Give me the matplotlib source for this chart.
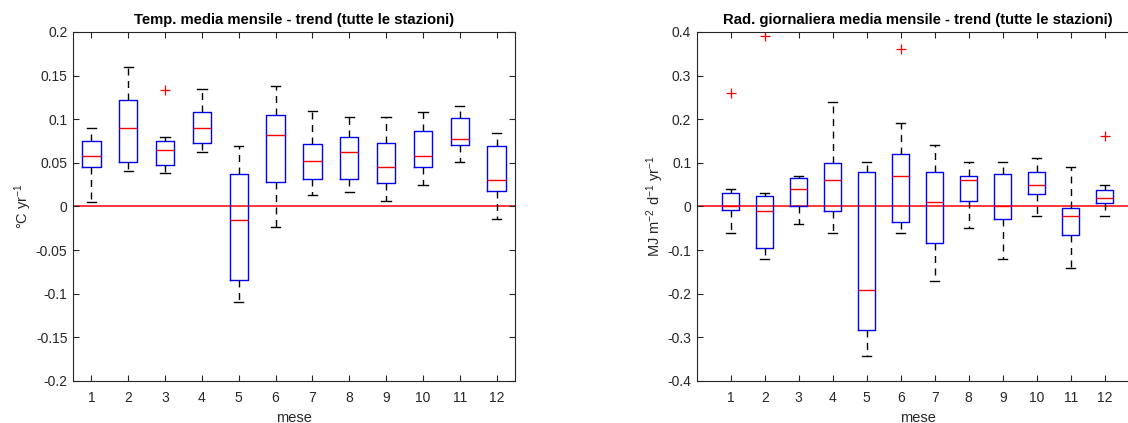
import matplotlib
matplotlib.use("Agg")
import matplotlib.pyplot as plt

plt.rcParams['font.family'] = ['Liberation Sans', 'DejaVu Sans']
plt.rcParams['mathtext.fontset'] = 'custom'
plt.rcParams['mathtext.rm'] = 'Liberation Sans'
plt.rcParams['mathtext.it'] = 'Liberation Sans:italic'
plt.rcParams['mathtext.bf'] = 'Liberation Sans:bold'

months = [1, 2, 3, 4, 5, 6, 7, 8, 9, 10, 11, 12]
month_labels = ['1', '2', '3', '4', '5', '6', '7', '8', '9', '10', '11', '12']

# Temperature trend (degC / yr)
temp_whislo = [0.005, 0.041, 0.038, 0.063, -0.109, -0.024, 0.013, 0.017, 0.006, 0.025, 0.051, -0.014]
temp_q1 = [0.045, 0.051, 0.047, 0.073, -0.084, 0.028, 0.032, 0.032, 0.027, 0.045, 0.070, 0.018]
temp_med = [0.058, 0.090, 0.065, 0.090, -0.016, 0.082, 0.052, 0.063, 0.045, 0.058, 0.077, 0.030]
temp_q3 = [0.075, 0.122, 0.075, 0.108, 0.037, 0.105, 0.072, 0.080, 0.073, 0.086, 0.101, 0.069]
temp_whishi = [0.090, 0.160, 0.080, 0.135, 0.069, 0.138, 0.110, 0.103, 0.103, 0.108, 0.115, 0.084]
temp_fliers = [[], [], [0.133], [], [], [], [], [], [], [], [], []]

# Radiation trend (MJ m-2 d-1 / yr)
rad_whislo = [-0.060, -0.120, -0.040, -0.060, -0.342, -0.060, -0.171, -0.050, -0.120, -0.021, -0.140, -0.021]
rad_q1 = [-0.007, -0.095, 0.000, -0.010, -0.284, -0.036, -0.083, 0.013, -0.028, 0.029, -0.066, 0.009]
rad_med = [0.000, -0.010, 0.040, 0.060, -0.192, 0.070, 0.010, 0.060, 0.000, 0.050, -0.021, 0.020]
rad_q3 = [0.031, 0.025, 0.065, 0.099, 0.078, 0.121, 0.078, 0.070, 0.075, 0.078, -0.003, 0.038]
rad_whishi = [0.040, 0.030, 0.070, 0.240, 0.101, 0.191, 0.141, 0.101, 0.101, 0.111, 0.090, 0.050]
rad_fliers = [[0.260], [0.390], [], [], [], [0.360], [], [], [], [], [], [0.162]]

W, H = 1128, 423
fig = plt.figure(figsize=(W / 100, H / 100), dpi=100)

ax1 = fig.add_axes([73 / W, 1 - 381 / H, 442 / W, 349 / H])
ax2 = fig.add_axes([696.7 / W, 1 - 381 / H, 442 / W, 349 / H])

tick_col = '#262626'


def build_stats(lo, q1, med, q3, hi, fl):
    return [dict(whislo=a, q1=b, med=c, q3=d, whishi=e, fliers=f)
            for a, b, c, d, e, f in zip(lo, q1, med, q3, hi, fl)]


def draw(ax, stats, ylim, yticks, yticklabels, xlim, title, ylabel):
    ax.axhline(0, color='red', lw=1.1, zorder=1)
    ax.bxp(stats, positions=months, widths=0.5, capwidths=0.25,
           boxprops=dict(color='blue', lw=1.0),
           medianprops=dict(color='red', lw=1.0),
           whiskerprops=dict(color='black', lw=1.0, linestyle=(0, (5, 4))),
           capprops=dict(color='black', lw=1.0),
           flierprops=dict(marker='+', markeredgecolor='red', markersize=7,
                           markeredgewidth=0.9, linestyle='none'),
           manage_ticks=False, zorder=2)
    ax.set_xlim(*xlim)
    ax.set_ylim(*ylim)
    ax.set_xticks(months)
    ax.set_xticklabels(month_labels)
    ax.set_yticks(yticks)
    ax.set_yticklabels(yticklabels)
    ax.tick_params(direction='in', length=4, width=0.8, colors=tick_col,
                   labelsize=10, top=True, right=True)
    ax.tick_params(axis='x', pad=7)
    ax.tick_params(axis='y', pad=4)
    for s in ax.spines.values():
        s.set_color(tick_col)
        s.set_linewidth(0.8)
    ax.set_title(title, fontsize=10.7, fontweight='bold', pad=6)
    ax.set_xlabel('mese', fontsize=10.5, color=tick_col, labelpad=4.5)
    ax.set_ylabel(ylabel, fontsize=10.5, color=tick_col, labelpad=1)


draw(ax1, build_stats(temp_whislo, temp_q1, temp_med, temp_q3, temp_whishi, temp_fliers),
     (-0.2, 0.2), [-0.2, -0.15, -0.1, -0.05, 0, 0.05, 0.1, 0.15, 0.2],
     ['-0.2', '-0.15', '-0.1', '-0.05', '0', '0.05', '0.1', '0.15', '0.2'],
     (0.5, 12.5), 'Temp. media mensile - trend (tutte le stazioni)',
     r'°C yr$^{-1}$')

draw(ax2, build_stats(rad_whislo, rad_q1, rad_med, rad_q3, rad_whishi, rad_fliers),
     (-0.4, 0.4), [-0.4, -0.3, -0.2, -0.1, 0, 0.1, 0.2, 0.3, 0.4],
     ['-0.4', '-0.3', '-0.2', '-0.1', '0', '0.1', '0.2', '0.3', '0.4'],
     (0, 13), 'Rad. giornaliera media mensile - trend (tutte le stazioni)',
     r'MJ m$^{-2}$ d$^{-1}$ yr$^{-1}$')

fig.savefig('out.png', dpi=100)
